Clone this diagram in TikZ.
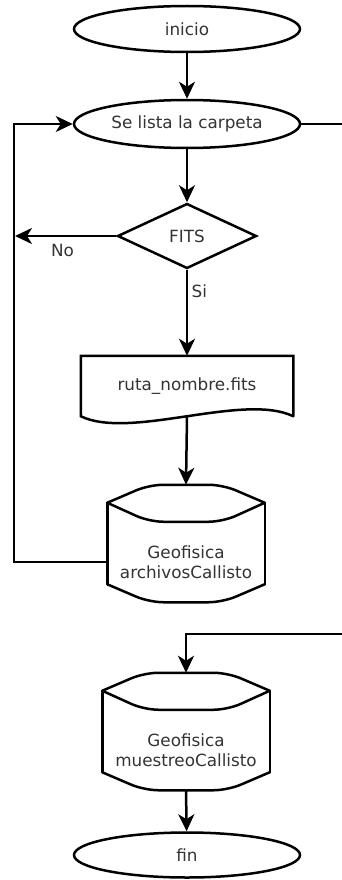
\documentclass[tikz,border=0pt]{standalone}
\usepackage{fontspec}
\setmainfont{DejaVu Sans}
\usepackage{tikz}
\usetikzlibrary{arrows.meta, shapes.geometric, calc}

\newcommand{\bordedisco}[1]{%
  \draw[borde] ($(#1.north west)+(0,-19)$) -- ($(#1.south west)+(0,-18)$);
  \draw[borde] ($(#1.north east)+(0,-19)$) -- ($(#1.south east)+(0,-18)$);
  \draw[borde, rounded corners=14pt] ($(#1.north west)+(0,-19)$) -- ++(42,-18)
    -- ($(#1.north east)+(-42,-37)$) -- ($(#1.north east)+(0,-19)$);
  \draw[borde, rounded corners=14pt] ($(#1.north west)+(0,-19)$) -- ++(42,19)
    -- ($(#1.north east)+(-42,0)$) -- ($(#1.north east)+(0,-19)$);
  \draw[borde, rounded corners=14pt] ($(#1.south west)+(0,-18)$) -- ++(42,18)
    -- ($(#1.south east)+(-42,0)$) -- ($(#1.south east)+(0,-18)$);
  \coordinate (#1_top) at ($(#1.north)+(0,-37)$);
}

\begin{document}
\begin{tikzpicture}[x=1pt, y=-1pt, line width=2.5pt,
      every node/.append style={font=\fontsize{16.8}{20.5}\selectfont, text=black!80},
      flecha/.style={-{Stealth[length=17pt,width=16pt,inset=5pt]}},
      borde/.style={draw=black, line width=2.5pt, line cap=round}]
    \tikzstyle{terminal} = [ellipse, draw, minimum width=226pt, minimum height=46pt, inner sep=0pt]
    \tikzstyle{decision} = [diamond, draw, minimum width=139pt, minimum height=65pt, aspect=2.1, inner sep=0pt]
    \tikzstyle{disco} = [rectangle, minimum height=78pt, inner sep=0pt, align=center]
    \useasboundingbox (0,0) rectangle (341,880);

    \node (inicio) [terminal] at (187,29) {inicio};
    \node (lista) [terminal, minimum height=48pt] at (187,124) {Se lista la carpeta};
    \node (fits) [decision] at (187,236) {FITS};
    \node (ruta) [rectangle, minimum width=210pt, minimum height=58pt, inner sep=0pt] at (187,386) {ruta\_nombre.fits};
    \node (archivos) [disco, minimum width=155pt] at (186,562) {Geofisica\\archivosCallisto};
    \node (muestreo) [disco, minimum width=165pt] at (186,750) {Geofisica\\muestreoCallisto};
    \node (fin) [terminal, minimum height=45pt] at (187,855) {fin};

    \draw[borde] (ruta.south east) -- (ruta.north east) -- (ruta.north west) -- (ruta.south west)
      .. controls +(50,24) and +(-50,-24) .. (ruta.south east);
    \bordedisco{archivos}
    \bordedisco{muestreo}

    \coordinate (no) at (15,236);
    \coordinate (izq) at (14,124);
    \coordinate (der) at (345,634);

    \draw[flecha] (inicio) -- (lista);
    \draw[flecha] (lista) -- (fits);
    \draw[flecha] (fits.west) -- node[below=4pt, pos=0.53] {No} (no);
    \draw[flecha] (fits.south) -- node[right, pos=0.25] {Si} (ruta.north);
    \draw[flecha] (ruta.south) -- (archivos_top);
    \draw[flecha] (archivos.west) -| (izq) -- (lista.west);
    \draw[flecha] (lista.east) -| (der) -| (muestreo_top);
    \draw[flecha] (muestreo.south) -- (fin);
\end{tikzpicture}
\end{document}
